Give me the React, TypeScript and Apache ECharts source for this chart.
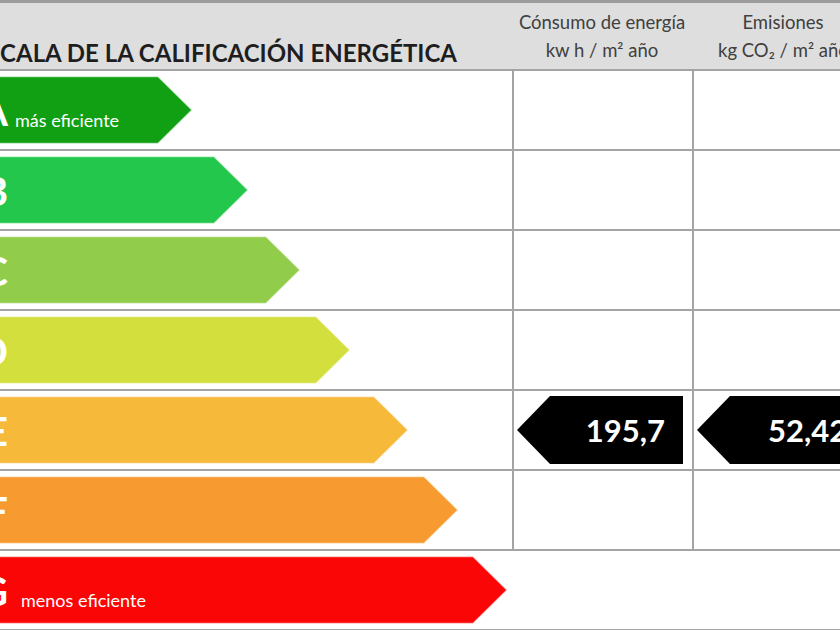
import React, { useEffect, useRef } from "react";
import * as echarts from "echarts";

// ---- data ----
const RATINGS = ["A", "B", "C", "D", "E", "F", "G"];
const RATING_ARROW_LENGTHS = [192, 248, 300, 350, 408, 458, 507];
const RATING_NOTES = ["más eficiente", "", "", "", "", "", "menos eficiente"];
const TITLE = "ESCALA DE LA CALIFICACIÓN ENERGÉTICA";
const COLUMN_HEADERS = [
  ["Cónsumo de energía", "kw h / m² año"],
  ["Emisiones", "kg CO₂ / m² año"],
];
const RESULT_RATING = ["E", "E"];
const RESULT_VALUES = ["195,7", "52,42"];

// ---- styles ----
const RATING_COLORS = ["#11a013", "#22c74b", "#91cd4b", "#d3df3d", "#f6b93a", "#f79b30", "#fb0606"];
const FONT = "Lato, 'Open Sans', sans-serif";
const LINE = "#a4a4a4";
const COL_X = [513, 693];
const COL_RIGHT = [683, 880];

export default function App() {
  const ref = useRef<HTMLDivElement>(null);
  useEffect(() => {
    if (!ref.current) return;
    const chart = echarts.init(ref.current, undefined, { renderer: "svg" });

    const ratingData = RATINGS.map((r, i) => [RATING_ARROW_LENGTHS[i], i, RATING_NOTES[i]]);
    const resultData = RESULT_VALUES.map((v, i) => [i, RATINGS.indexOf(RESULT_RATING[i]), v]);

    chart.setOption({
      animation: false,
      backgroundColor: "#ffffff",
      grid: { left: 0, right: 0, top: 70, bottom: 0 },
      xAxis: {
        type: "value",
        min: 0,
        max: 840,
        show: true,
        axisLine: { show: false },
        axisTick: { show: false },
        axisLabel: { show: false },
        splitLine: { show: false },
      },
      yAxis: {
        type: "category",
        data: RATINGS,
        inverse: true,
        axisLine: { show: false },
        axisTick: { show: false },
        axisLabel: { show: false },
        splitLine: { show: true, lineStyle: { color: LINE, width: 2 } },
      },
      graphic: [
        { type: "rect", shape: { x: 0, y: 0, width: 840, height: 69 }, style: { fill: "#dedede" }, z: -1 },
        { type: "rect", shape: { x: 0, y: 0, width: 840, height: 3 }, style: { fill: "#9c9c9c" } },
        {
          type: "text",
          x: 457,
          y: 52,
          style: {
            text: TITLE,
            align: "right",
            verticalAlign: "middle",
            font: `bold 24px ${FONT}`,
            fill: "#1e1e1e",
          },
        },
        ...COLUMN_HEADERS.flatMap((h, i) => {
          const cx = i === 0 ? 602 : 783;
          return [
            {
              type: "text",
              x: cx,
              y: 22,
              style: { text: h[0], align: "center", verticalAlign: "middle", font: `18.5px ${FONT}`, fill: "#404040" },
            },
            {
              type: "text",
              x: i === 0 ? 602 : 718,
              y: 50,
              style: {
                text: h[1],
                align: i === 0 ? "center" : "left",
                verticalAlign: "middle",
                font: `18.5px ${FONT}`,
                fill: "#404040",
              },
            },
          ];
        }),
        ...COL_X.map((x) => ({
          type: "line",
          shape: { x1: x, y1: 69, x2: x, y2: 551 },
          style: { stroke: LINE, lineWidth: 2 },
        })),
      ],
      series: [
        {
          type: "custom",
          encode: { x: 0, y: 1 },
          data: ratingData,
          z: 3,
          renderItem: (params: any, api: any) => {
            const i = api.value(1);
            const len = api.value(0);
            const [xEnd, cy] = api.coord([len, i]);
            const [x0] = api.coord([0, i]);
            const band = api.size([0, 1])[1];
            const h = band * 0.84;
            const tip = 34;
            const top = cy - h / 2;
            const bot = cy + h / 2;
            const note = RATING_NOTES[params.dataIndex];
            const children: any[] = [
              {
                type: "polygon",
                shape: {
                  points: [
                    [x0 - 10, top],
                    [xEnd - tip, top],
                    [xEnd, cy],
                    [xEnd - tip, bot],
                    [x0 - 10, bot],
                  ],
                },
                style: { fill: RATING_COLORS[params.dataIndex], stroke: "rgba(255,255,255,0.6)", lineWidth: 1.5 },
              },
              {
                type: "text",
                x: x0 + 8,
                y: cy + 1,
                style: {
                  text: RATINGS[params.dataIndex],
                  align: "right",
                  verticalAlign: "middle",
                  font: `bold 40px ${FONT}`,
                  fill: "#ffffff",
                },
              },
            ];
            if (note) {
              children.push({
                type: "text",
                x: x0 + (params.dataIndex === 0 ? 15 : 21),
                y: cy + 10,
                style: {
                  text: note,
                  align: "left",
                  verticalAlign: "middle",
                  font: `18px ${FONT}`,
                  fill: "#ffffff",
                },
              });
            }
            return { type: "group", children };
          },
        },
        {
          type: "custom",
          encode: { x: 0, y: 1 },
          data: resultData,
          z: 4,
          renderItem: (params: any, api: any) => {
            const col = api.value(0);
            const i = api.value(1);
            const [, cy] = api.coord([0, i]);
            const band = api.size([0, 1])[1];
            const h = band * 0.85;
            const left = COL_X[col] + 4;
            const right = COL_RIGHT[col];
            const tip = 33;
            const top = cy - h / 2;
            const bot = cy + h / 2;
            return {
              type: "group",
              children: [
                {
                  type: "polygon",
                  shape: {
                    points: [
                      [left, cy],
                      [left + tip, top],
                      [right, top],
                      [right, bot],
                      [left + tip, bot],
                    ],
                  },
                  style: { fill: "#000000" },
                },
                {
                  type: "text",
                  x: col === 0 ? right - 18 : left + 71,
                  y: cy,
                  style: {
                    text: RESULT_VALUES[params.dataIndex],
                    align: col === 0 ? "right" : "left",
                    verticalAlign: "middle",
                    font: `bold 31px ${FONT}`,
                    fill: "#ffffff",
                  },
                },
              ],
            };
          },
        },
      ],
    });
    return () => chart.dispose();
  }, []);
  return (
    <div
      ref={ref}
      style={{ position: "absolute", left: 0, top: 0, width: 840, height: 630, background: "#fff" }}
    />
  );
}
